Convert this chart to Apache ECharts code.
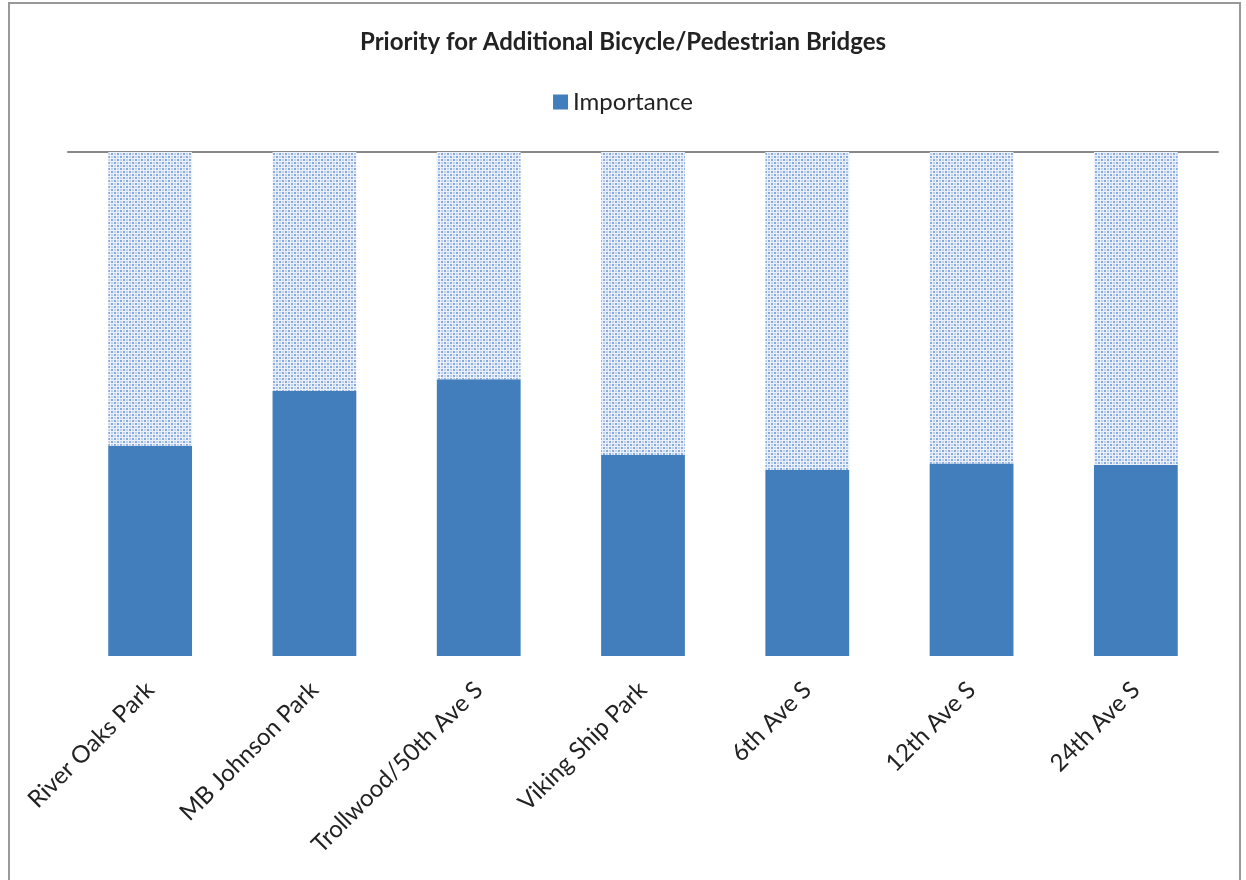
<!DOCTYPE html>
<html>
<head>
<meta charset="utf-8">
<script src="https://cdn.jsdelivr.net/npm/echarts@6/dist/echarts.min.js"></script>
<style>html,body{margin:0;padding:0;background:#fff}#c{width:1246px;height:880px}</style>
</head>
<body>
<div id="c"></div>
<script>
const categories = ['River Oaks Park','MB Johnson Park','Trollwood/50th Ave S','Viking Ship Park','6th Ave S','12th Ave S','24th Ave S'];
const importance = [41.7, 52.6, 54.9, 39.9, 36.9, 38.2, 37.9];
const scaleMax = 100;
const remainder = importance.map(v => +(scaleMax - v).toFixed(1));

function makePattern() {
  const c = document.createElement('canvas');
  c.width = 6; c.height = 6;
  const g = c.getContext('2d');
  g.fillStyle = '#edf2fa'; g.fillRect(0,0,6,6);
  g.fillStyle = '#86aadd';
  g.fillRect(0,0,2,2);
  g.fillRect(3,3,2,2);
  g.fillStyle = '#bccfec';
  g.fillRect(0,3,2,2);
  g.fillRect(3,0,2,2);
  return c;
}

const chart = echarts.init(document.getElementById('c'));
chart.setOption({
  backgroundColor: '#fff',
  animation: false,
  title: {
    text: 'Priority for Additional Bicycle/Pedestrian Bridges',
    left: 'center', top: 25,
    textStyle: { fontFamily: 'Lato', fontWeight: 'bold', fontSize: 24, color: '#222' }
  },
  legend: {
    data: ['Importance'], top: 85, left: 'center',
    icon: 'rect', itemWidth: 15, itemHeight: 15, itemGap: 6,
    textStyle: { fontFamily: 'Lato', fontSize: 24, color: '#222' }
  },
  graphic: [{
    type: 'rect', shape: { x: 9, y: 3, width: 1231, height: 900 },
    style: { fill: 'none', stroke: '#999', lineWidth: 2 }, silent: true
  }],
  grid: { left: 68, right: 28, top: 152, bottom: 224 },
  xAxis: [{
    type: 'category', data: categories,
    axisLine: { show: false }, axisTick: { show: false },
    axisLabel: { rotate: 45, interval: 0, margin: 30, fontFamily: 'Lato', fontSize: 24, color: '#222' }
  }, {
    type: 'category', data: categories, position: 'top',
    axisLine: { show: true, lineStyle: { color: '#888', width: 2 } },
    axisTick: { show: false }, axisLabel: { show: false }
  }],
  yAxis: {
    type: 'value', min: 0, max: scaleMax,
    show: false
  },
  series: [{
    name: 'Importance', type: 'bar', stack: 's', data: importance,
    barWidth: '51%', itemStyle: { color: '#427ebb' }
  }, {
    name: 'Remainder', type: 'bar', stack: 's', data: remainder,
    barWidth: '51%', itemStyle: { color: { image: makePattern(), repeat: 'repeat' } }
  }]
});
</script>
</body>
</html>
